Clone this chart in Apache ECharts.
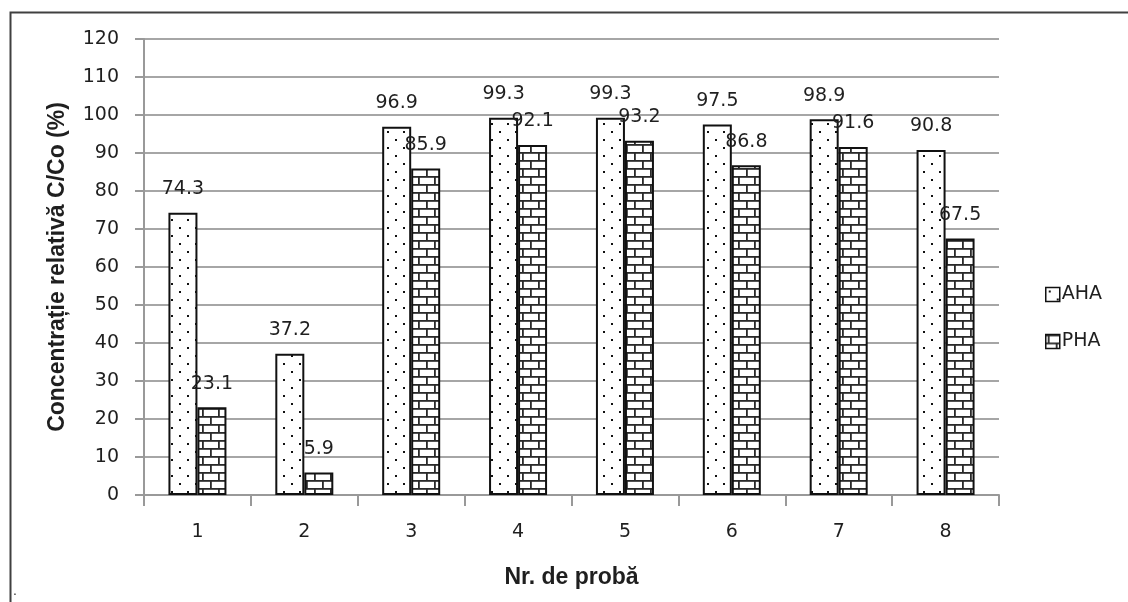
<!DOCTYPE html>
<html>
<head>
<meta charset="utf-8">
<script src="https://cdn.jsdelivr.net/npm/echarts@6/dist/echarts.min.js"></script>
<style>
html,body{margin:0;padding:0;background:#fff;}
#chart{width:1128px;height:602px;}
</style>
</head>
<body>
<div id="chart"></div>
<script>
var categories = ['1','2','3','4','5','6','7','8'];
var ahaValues = [74.3, 37.2, 96.9, 99.3, 99.3, 97.5, 98.9, 90.8];
var phaValues = [23.1, 5.9, 85.9, 92.1, 93.2, 86.8, 91.6, 67.5];
var seriesNames = ['AHA', 'PHA'];
var yAxisTitle = 'Concentrație relativă C/Co (%)';
var xAxisTitle = 'Nr. de probă';

function dotPattern() {
  var c = document.createElement('canvas');
  c.width = 16; c.height = 16;
  var g = c.getContext('2d');
  g.fillStyle = '#fff'; g.fillRect(0, 0, 16, 16);
  g.fillStyle = '#111';
  g.fillRect(3, 3, 2, 2);
  g.fillRect(11, 11, 2, 2);
  return c;
}
function brickPattern() {
  var c = document.createElement('canvas');
  c.width = 16; c.height = 16;
  var g = c.getContext('2d');
  g.fillStyle = '#fff'; g.fillRect(0, 0, 16, 16);
  g.fillStyle = '#2a2a2a';
  g.fillRect(0, 0, 16, 1.8);
  g.fillRect(0, 8, 16, 1.8);
  g.fillRect(2, 0, 1.8, 8);
  g.fillRect(10, 8, 1.8, 8);
  return c;
}

var chart = echarts.init(document.getElementById('chart'), null, {renderer: 'canvas'});
var font = 'DejaVu Sans';
var titleFont = 'Liberation Sans Narrow, Liberation Sans';
var labelStyle = {
  show: true, position: 'top', distance: 14,
  fontFamily: font, fontSize: 19, color: '#1f1f1f'
};
chart.setOption({
  animation: false,
  backgroundColor: '#fff',
  graphic: [
    {type: 'rect', left: 8, top: 10, shape: {width: 1200, height: 700},
     style: {fill: 'none', stroke: '#404040', lineWidth: 2}, z: -1},
    {type: 'text', left: 13, top: 584, style: {text: '.', fontSize: 14, fill: '#333'}}
  ],
  grid: {left: 144, right: 129, top: 39, bottom: 107},
  legend: {
    orient: 'vertical', left: 1040, top: 280, itemGap: 28,
    icon: 'rect', itemWidth: 14, itemHeight: 14,
    itemStyle: {borderColor: '#111', borderWidth: 1.5},
    textStyle: {fontFamily: font, fontSize: 19, color: '#1f1f1f', padding: [0, 0, 0, -3]},
    data: seriesNames
  },
  xAxis: {
    type: 'category', data: categories,
    boundaryGap: true,
    axisLine: {lineStyle: {color: '#999', width: 2}},
    axisTick: {show: true, length: 11, alignWithLabel: false, lineStyle: {color: '#999', width: 2}},
    axisLabel: {fontFamily: font, fontSize: 19, color: '#1f1f1f', margin: 28},
    name: xAxisTitle, nameLocation: 'middle', nameGap: 71,
    nameTextStyle: {fontFamily: titleFont, fontWeight: 'bold', fontSize: 23, color: '#1f1f1f'}
  },
  yAxis: {
    type: 'value', min: 0, max: 120, interval: 10,
    axisLine: {show: true, lineStyle: {color: '#999', width: 2}},
    axisTick: {show: true, length: 9, lineStyle: {color: '#999', width: 2}},
    splitLine: {lineStyle: {color: '#a6a6a6', width: 2}},
    axisLabel: {fontFamily: font, fontSize: 19, color: '#1f1f1f', margin: 25},
    name: yAxisTitle, nameLocation: 'middle', nameGap: 75, nameRotate: 90,
    nameTextStyle: {fontFamily: titleFont, fontWeight: 'bold', fontSize: 23, color: '#1f1f1f'}
  },
  series: [
    {
      name: seriesNames[0], type: 'bar', data: ahaValues,
      barWidth: 29, barGap: '0%',
      itemStyle: {color: {image: dotPattern(), repeat: 'repeat'}, borderColor: '#111', borderWidth: 2},
      label: labelStyle
    },
    {
      name: seriesNames[1], type: 'bar', data: phaValues,
      barWidth: 29, barGap: '0%',
      itemStyle: {color: {image: brickPattern(), repeat: 'repeat'}, borderColor: '#111', borderWidth: 2},
      label: labelStyle
    }
  ]
});
</script>
</body>
</html>
